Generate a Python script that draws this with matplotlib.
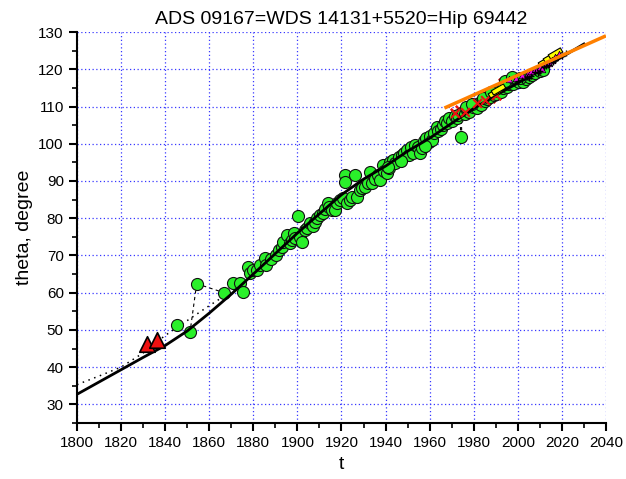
import matplotlib
matplotlib.use("Agg")
import matplotlib.pyplot as plt
import numpy as np
from matplotlib.ticker import MultipleLocator

plt.rcParams['font.family'] = ['Liberation Sans', 'DejaVu Sans']

# ---- data ----
title = "ADS 09167=WDS 14131+5520=Hip 69442"

# orbit (solid) curve
orbit_t = [1800, 1810, 1820, 1830, 1840, 1850, 1860, 1870, 1880, 1890, 1900, 1910,
           1920, 1930, 1940, 1950, 1960, 1970, 1980, 1990, 2000, 2010, 2020, 2030]
orbit_th = [32.7, 36.0, 39.3, 42.6, 45.8, 49.7, 54.5, 59.6, 65.0, 70.5, 76.0, 81.2,
            86.3, 90.5, 94.0, 98.0, 101.5, 105.5, 109.5, 113.0, 116.3, 119.8, 123.3, 126.8]

# alternative orbit (dotted)
orbit2_t = [1800, 1810, 1820, 1830, 1840, 1850, 1860, 1870, 1880, 1890]
orbit2_th = [35.3, 37.6, 40.0, 43.8, 48.5, 52.5, 56.5, 60.3, 65.2, 70.6]

# visual observations (green)
vis_t = [1845.4, 1851.3, 1854.3, 1866.7, 1870.8, 1874.0, 1875.3, 1877.6, 1878.5, 1880.0,
         1881.7, 1883.0, 1885.3, 1885.8, 1888.0, 1890.3, 1891.5, 1893.0, 1893.5, 1895.3,
         1896.6, 1897.5, 1898.5, 1899.0, 1900.3, 1901.2, 1902.1, 1903.4, 1904.5, 1905.7,
         1907.0, 1908.0, 1909.0, 1910.3, 1911.6, 1912.5, 1913.9, 1914.5, 1915.7, 1917.0,
         1918.0, 1919.3, 1920.7, 1921.6, 1921.6, 1922.5, 1923.9, 1924.8, 1926.1, 1927.0,
         1928.4, 1929.5, 1930.7, 1932.0, 1932.9, 1933.8, 1935.0, 1936.5, 1937.5, 1938.8,
         1939.5, 1940.7, 1941.5, 1942.0, 1943.4, 1944.5, 1946.0, 1947.5, 1948.5, 1949.7,
         1950.5, 1951.5, 1952.4, 1953.5, 1954.5, 1955.6, 1956.5, 1957.5, 1958.5, 1959.5,
         1960.2, 1961.0, 1962.0, 1963.3, 1964.0, 1965.0, 1966.0, 1967.0, 1968.0, 1969.0,
         1970.0, 1971.5, 1972.5, 1973.0, 1974.2, 1975.0, 1976.0, 1977.0, 1978.0, 1979.7,
         1980.5, 1981.5, 1982.5, 1983.5, 1985.0, 1986.0, 1987.5, 1989.0, 1990.0, 1991.0,
         1992.5, 1993.5, 1995.1, 1996.0, 1997.0, 1998.0, 1999.0, 2000.5, 2002.4, 2003.5,
         2005.0, 2006.5, 2008.0, 2010.0, 2011.6, 1984.0, 1988.0, 1994.0, 1997.5, 2001.0,
         1976.5, 1979.0, 1958.0, 1946.8, 1941.0]
vis_th = [51.2, 49.5, 62.4, 60.0, 62.7, 62.7, 60.3, 67.0, 65.4, 66.0,
          66.2, 67.5, 69.4, 67.5, 69.0, 70.2, 71.5, 72.4, 73.7, 75.6,
          73.4, 74.2, 76.0, 74.8, 80.7, 75.0, 73.7, 76.9, 77.5, 78.8,
          78.0, 79.1, 80.0, 80.9, 81.5, 82.5, 84.2, 83.0, 82.3, 82.3,
          84.0, 85.0, 85.5, 91.7, 89.8, 84.2, 85.0, 85.8, 91.7, 85.8,
          87.6, 88.0, 88.4, 89.5, 92.5, 89.5, 90.5, 91.5, 90.3, 94.3,
          92.8, 92.2, 93.5, 95.1, 95.7, 94.8, 96.5, 97.0, 97.5, 98.4,
          97.0, 99.0, 97.6, 99.8, 99.0, 97.6, 98.9, 100.8, 101.5, 100.5,
          102.0, 101.0, 103.0, 104.5, 103.5, 104.0, 105.0, 106.0, 105.5, 107.0,
          106.0, 107.5, 106.8, 107.8, 101.8, 108.5, 108.0, 109.0, 108.5, 109.9,
          110.5, 109.5, 111.0, 110.5, 111.5, 112.0, 112.5, 113.0, 113.5, 114.3,
          114.0, 115.0, 115.3, 116.0, 116.8, 116.0, 117.0, 116.5, 116.6, 117.5,
          118.0, 118.5, 119.0, 119.5, 119.8, 112.3, 113.8, 116.8, 118.0, 117.8,
          109.8, 110.8, 99.5, 95.5, 93.8]

# early micrometer measures (red triangles)
early_t = [1831.6, 1836.1]
early_th = [46.3, 47.4]

# speckle-type measures
red_t = [1971.5, 1973.8, 1976.0, 1978.5, 1981.4, 1983.0, 1985.0, 1987.5, 1990.0, 1993.3]
red_th = [108.2, 109.0, 108.6, 110.0, 110.9, 110.9, 111.8, 112.3, 113.2, 116.2]

yel_t = [1989.6, 1990.8, 2012.5, 2014.6, 2016.9]
yel_th = [114.0, 114.6, 122.3, 123.4, 124.3]

mag_t = [1996.0, 1999.0, 2002.0, 2004.5, 2006.0, 2008.0, 2010.0, 2011.0, 2012.5, 2014.0,
         2015.5, 2017.0, 2018.7]
mag_th = [117.5, 117.8, 118.6, 119.0, 119.6, 120.0, 120.5, 120.0, 121.3, 121.8,
          122.6, 123.2, 124.0]

blk_t = [2000.0, 2002.0, 2004.0, 2006.0, 2008.0, 2010.0, 2012.0, 2014.0, 2016.0,
         2018.0, 2020.0, 2022.0, 2005.0, 2009.0, 2013.0, 2017.0]
blk_th = [116.8, 117.0, 118.0, 118.3, 119.3, 119.5, 120.5, 121.2, 122.0,
          123.0, 123.5, 124.3, 117.6, 118.9, 120.9, 122.4]

# linear trend (orange)
lin_t = [1966.7, 2040.0]
lin_th = [109.6, 129.0]

# residual connectors (dashed)
conn = [((1854.3, 62.4), (1851.3, 49.5)),
        ((1854.3, 62.4), (1866.7, 60.0)),
        ((1974.2, 101.8), (1973.8, 106.5)),
        ((1974.6, 101.8), (1974.4, 106.5))]

xticks = [1800, 1820, 1840, 1860, 1880, 1900, 1920, 1940, 1960, 1980, 2000, 2020, 2040]
yticks = [30, 40, 50, 60, 70, 80, 90, 100, 110, 120, 130]

# ---- figure ----
fig = plt.figure(figsize=(6.26, 4.79), dpi=100)
ax = fig.add_axes([0.123, 0.117, 0.845, 0.816])

ax.set_xlim(1800, 2040)
ax.set_ylim(25, 130)
ax.set_xticks(xticks)
ax.set_yticks(yticks)
ax.xaxis.set_minor_locator(MultipleLocator(10))
ax.yaxis.set_minor_locator(MultipleLocator(5))
ax.grid(True, which='major', color='#3838ff', linestyle=(0, (1, 2)), linewidth=0.9)
ax.set_axisbelow(True)

for s in ['top', 'right']:
    ax.spines[s].set_visible(False)
for s in ['left', 'bottom']:
    ax.spines[s].set_linewidth(1.5)

ax.tick_params(which='major', direction='out', length=6, width=1.5, labelsize=11)
ax.tick_params(which='minor', direction='out', length=3.5, width=1.2)

for (a, b) in conn:
    ax.plot([a[0], b[0]], [a[1], b[1]], color='k', linestyle=(0, (3, 3)), linewidth=0.8, zorder=2)

ax.plot(orbit2_t, orbit2_th, color='k', linestyle=(0, (1, 3)), linewidth=1.1, zorder=2)

ax.scatter(red_t, red_th, s=45, marker='x', color='#ee1111', linewidth=1.8, zorder=3)
ax.scatter(vis_t, vis_th, s=75, facecolor='#2af02a', edgecolor='#111111', linewidth=0.8, zorder=3)

ax.plot(orbit_t, orbit_th, color='k', linewidth=2, zorder=4)

ax.scatter(red_t[::2], red_th[::2], s=40, marker='x', color='#ee1111', linewidth=1.5, zorder=5)

ang = np.deg2rad(30)
rect = np.array([[-1, -0.35], [1, -0.35], [1, 0.35], [-1, 0.35], [-1, -0.35]])
rot = np.array([[np.cos(ang), -np.sin(ang)], [np.sin(ang), np.cos(ang)]])
yel_marker = rect @ rot.T
ax.scatter(yel_t, yel_th, s=110, marker=yel_marker, facecolor='#ffff00', edgecolor='k', linewidth=0.8, zorder=6)

ax.scatter(mag_t, mag_th, s=22, marker='^', facecolor='#ee00ee', edgecolor='k', linewidth=0.5, zorder=6)
ax.scatter(blk_t, blk_th, s=14, marker='+', color='k', linewidth=1.0, zorder=6)

ax.plot(lin_t, lin_th, color='#ff8000', linewidth=2.5, zorder=7, solid_capstyle='butt')

ax.scatter(early_t, early_th, s=125, marker='^', facecolor='#ee1111', edgecolor='k', linewidth=1.2, zorder=8)

ax.set_title(title, fontsize=14, pad=6)
ax.set_xlabel('t', fontsize=14)
ax.set_ylabel('theta, degree', fontsize=14)

fig.savefig('out.png', dpi=100)
